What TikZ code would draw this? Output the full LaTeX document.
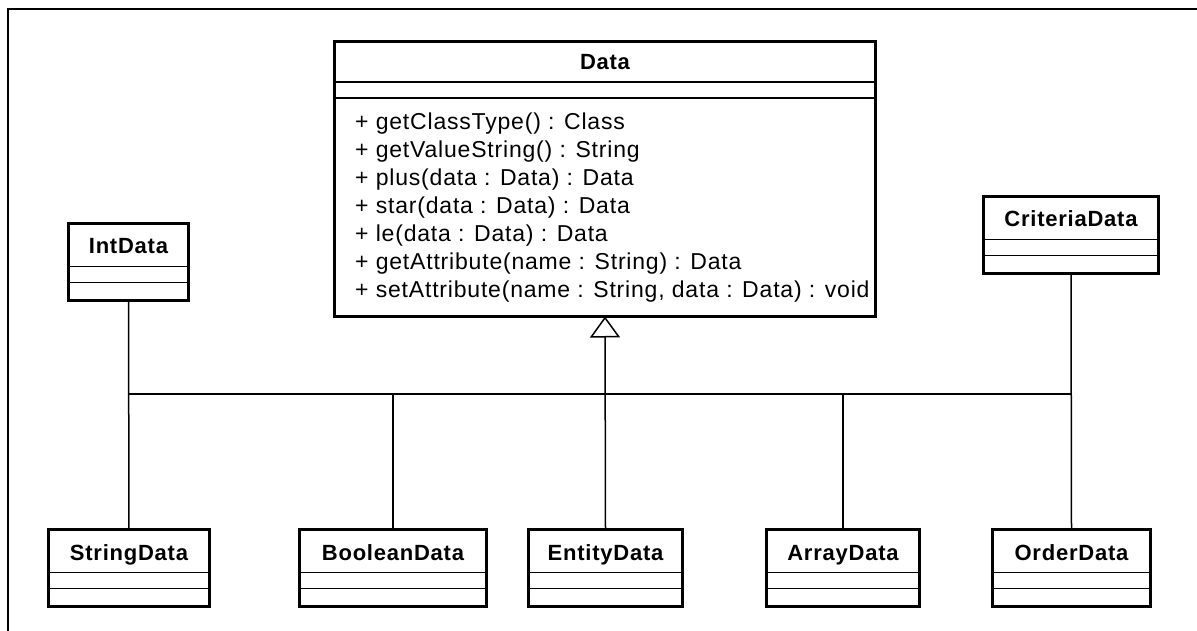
\documentclass[tikz,border=0pt]{standalone}
\usepackage{fontspec}
\setmainfont{Liberation Sans}
\newfontfamily\umlfont{Liberation Sans}[LetterSpace=3.5]
\usetikzlibrary{calc,arrows.meta}

\tikzset{
  x=1pt, y=-1pt,
  clsbox/.style={draw, line width=3pt, inner sep=0pt, outer sep=0pt,
    fill=white, anchor=north west},
  clstitle/.style={anchor=base, inner sep=0pt,
    font=\umlfont\fontsize{22}{26}\selectfont\bfseries},
  member/.style={anchor=base west, inner sep=0pt,
    font=\umlfont\fontsize{23}{28}\selectfont},
  divider/.style={line width=1.4pt},
  link/.style={line width=1.5pt},
  generalization/.style={link,
    -{Triangle[open, length=21pt, width=30pt, line width=1.5pt]}},
  frameline/.style={line width=2pt}
}

% small class box: name, left, top, width, title
\newcommand\umlclass[5]{%
  \node[clsbox, minimum width=#4pt, minimum height=77pt] (#1) at (#2,#3) {};
  \draw[divider] ($(#1.north west)+(0,43)$) -- ($(#1.north east)+(0,43)$);
  \draw[divider] ($(#1.north west)+(0,59)$) -- ($(#1.north east)+(0,59)$);
  \node[clstitle] (#1-title) at ($(#1.north)+(0,30.5)$) {#5};
}

\begin{document}
\begin{tikzpicture}
  \useasboundingbox (0,0) rectangle (1197,631);

  % frame around the diagram
  \draw[frameline] (8,640) -- (8,9) -- (1205,9);

  % base class
  \node[clsbox, minimum width=541pt, minimum height=275pt] (data) at (334.5,41.5) {};
  \draw[divider] ($(data.north west)+(0,40.5)$) -- ($(data.north east)+(0,40.5)$);
  \draw[divider] ($(data.north west)+(0,56.5)$) -- ($(data.north east)+(0,56.5)$);
  \node[clstitle] (data-title) at ($(data.north)+(0,28.5)$) {Data};
  \node[member] (m1) at (355,129.5) {+ getClassType() : Class};
  \node[member] (m2) at (355,157.5) {+ getValueString() : String};
  \node[member] (m3) at (355,185.5) {+ plus(data : Data) : Data};
  \node[member] (m4) at (355,213.5) {+ star(data : Data) : Data};
  \node[member] (m5) at (355,241.5) {+ le(data : Data) : Data};
  \node[member] (m6) at (355,269.5) {+ getAttribute(name : String) : Data};
  \node[member] (m7) at (355,297.5) {+ setAttribute(name : String, data : Data) : void};

  % subclasses
  \umlclass{int}{68.5}{223.5}{120}{IntData}
  \umlclass{criteria}{983.5}{196.5}{175}{CriteriaData}
  \umlclass{string}{48.5}{529.5}{161}{StringData}
  \umlclass{boolean}{299.5}{529.5}{187}{BooleanData}
  \umlclass{entity}{528.5}{529.5}{154}{EntityData}
  \umlclass{array}{766.5}{529.5}{153}{ArrayData}
  \umlclass{order}{992.5}{529.5}{158}{OrderData}

  % inheritance tree
  \coordinate (bus) at (605,394);
  \draw[link] (int.south) -- (string.north);
  \draw[link] (criteria.south) -- (order.north);
  \draw[link] (int.south |- bus) -- (criteria.south |- bus);
  \draw[link] (boolean.north) -- (boolean.north |- bus);
  \draw[link] (array.north) -- (array.north |- bus);
  \draw[generalization] (entity.north) -- (data.south);
\end{tikzpicture}
\end{document}
